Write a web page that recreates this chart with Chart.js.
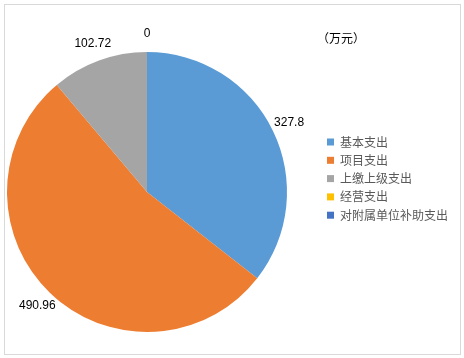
<!DOCTYPE html>
<html lang="zh-CN">
<head>
    <meta charset="UTF-8">
    <title>支出结构</title>
    <script src="https://cdn.jsdelivr.net/npm/chart.js"></script>
    <style>
        html, body { margin: 0; padding: 0; background: #fff; }
        .box { position: relative; width: 464px; height: 358px; }
    </style>
</head>
<body>
    <div class="box">
        <canvas id="grafico_pizza" width="464" height="358"></canvas>
    </div>
<script>
    var categorias = ['基本支出', '项目支出', '上缴上级支出', '经营支出', '对附属单位补助支出'];
    var valores = [327.8, 490.96, 102.72, 0, null];
    var rotulos = ['327.8', '490.96', '102.72', '0', ''];
    var cores = ['#5B9BD5', '#ED7D31', '#A5A5A5', '#FFC000', '#4472C4'];
    var unidade = '（万元）';

    var fonteNum = '12px "Liberation Sans", Arial, sans-serif';
    var fonteCJK = '12px "Noto Sans CJK SC", sans-serif';

    // borda, unidade e legenda desenhadas no canvas
    const extras = {
        id: 'extras',
        beforeDraw(chart) {
            const ctx = chart.ctx;
            ctx.save();
            ctx.fillStyle = '#fff';
            ctx.fillRect(0, 0, chart.width, chart.height);
            ctx.strokeStyle = '#d9d9d9';
            ctx.lineWidth = 1;
            ctx.strokeRect(4.5, 4.5, 456, 350);
            ctx.restore();
        },
        afterDatasetsDraw(chart) {
            const ctx = chart.ctx;
            const meta = chart.getDatasetMeta(0);
            ctx.save();
            // rotulos fora da pizza
            ctx.font = fonteNum;
            ctx.fillStyle = '#000';
            ctx.textAlign = 'center';
            ctx.textBaseline = 'middle';
            meta.data.forEach(function (arc, i) {
                if (valores[i] === null) return;
                const p = arc.getProps(['x', 'y', 'startAngle', 'endAngle', 'outerRadius'], true);
                const meio = (p.startAngle + p.endAngle) / 2;
                const d = p.outerRadius + 18;
                ctx.fillText(rotulos[i], p.x + Math.cos(meio) * d, p.y + Math.sin(meio) * d);
            });
            // unidade
            ctx.font = fonteCJK;
            ctx.fillStyle = '#000';
            ctx.textAlign = 'left';
            ctx.fillText(unidade, 317, 38);
            // legenda
            for (let i = 0; i < categorias.length; i++) {
                const y = 142 + i * 18.3;
                ctx.fillStyle = cores[i];
                ctx.fillRect(327, y - 3.5, 7, 7);
                ctx.fillStyle = '#595959';
                ctx.font = fonteCJK;
                ctx.fillText(categorias[i], 340, y);
            }
            ctx.restore();
        }
    };

    const chart = new Chart('grafico_pizza', {
        type: 'pie',
        data: {
            labels: categorias,
            datasets: [{
                data: valores,
                backgroundColor: cores,
                borderWidth: 0
            }]
        },
        options: {
            responsive: false,
            animation: false,
            layout: {
                padding: { left: 7, right: 177, top: 52, bottom: 26 }
            },
            plugins: {
                legend: { display: false },
                tooltip: { enabled: false }
            }
        },
        plugins: [extras]
    });
</script>
</body>
</html>
